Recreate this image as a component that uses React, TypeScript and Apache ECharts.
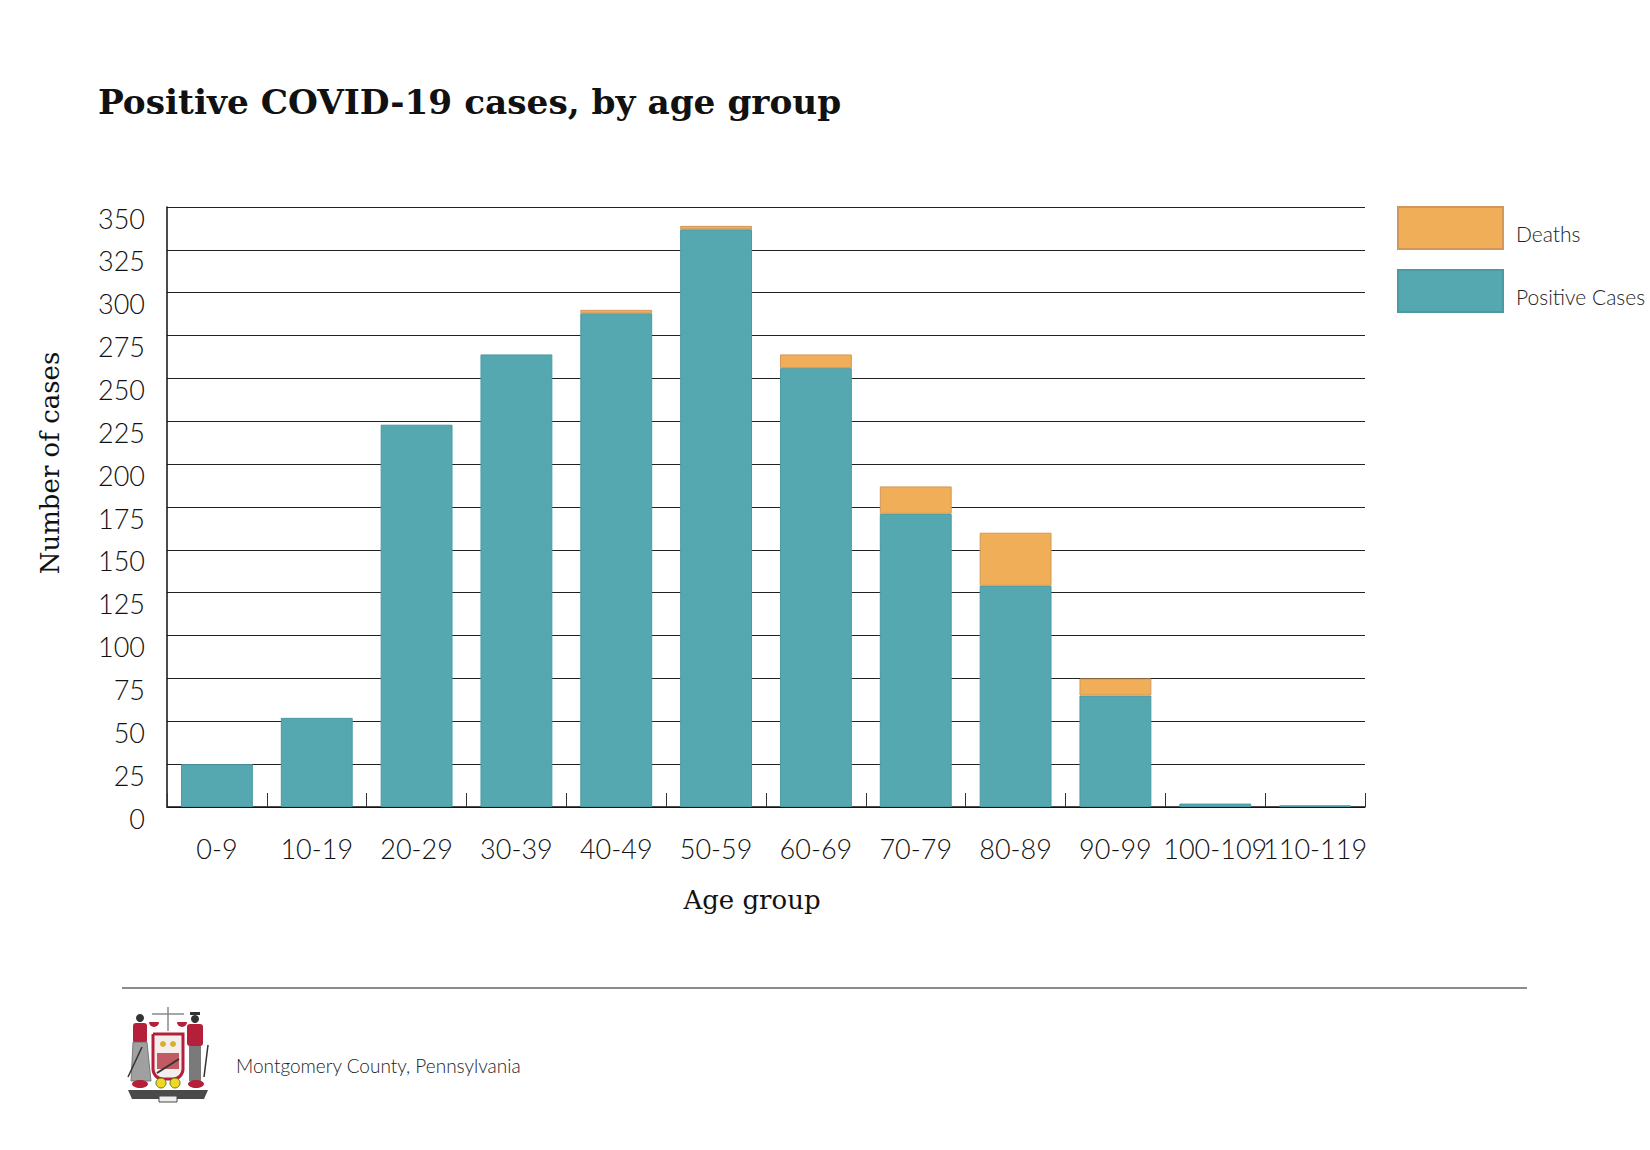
import { useEffect, useRef } from "react";
import * as echarts from "echarts";

const ageGroups = ["0-9", "10-19", "20-29", "30-39", "40-49", "50-59", "60-69", "70-79", "80-89", "90-99", "100-109", "110-119"];
const positiveCases = [25, 52, 223, 264, 288, 337, 256, 171, 129, 65, 2, 1];
const deaths = [0, 0, 0, 0, 2, 2, 8, 16, 31, 10, 0, 0];
const yTicks = { min: 0, max: 350, interval: 25 };

const TEAL = "#55a7b0";
const ORANGE = "#f0ae58";
const LIGHT = "Lato, 'Open Sans', sans-serif";
const SERIF = "'DejaVu Serif', serif";

// rough drawing of the county seal next to the footer text
function sealGraphic(): any[] {
  const red = "#b4203a";
  const grey = "#8a8a8a";
  return [
    {
      type: "group",
      x: 128,
      y: 1007,
      children: [
        // scales on top
        { type: "line", shape: { x1: 40, y1: 0, x2: 40, y2: 24 }, style: { stroke: grey, lineWidth: 1.5 } },
        { type: "line", shape: { x1: 24, y1: 7, x2: 56, y2: 7 }, style: { stroke: grey, lineWidth: 1.5 } },
        { type: "sector", shape: { cx: 26, cy: 15, r: 5, startAngle: 0, endAngle: Math.PI }, style: { fill: red } },
        { type: "sector", shape: { cx: 54, cy: 15, r: 5, startAngle: 0, endAngle: Math.PI }, style: { fill: red } },
        // left figure
        { type: "circle", shape: { cx: 12, cy: 11, r: 4 }, style: { fill: "#333" } },
        { type: "rect", shape: { x: 5, y: 16, width: 14, height: 20, r: 3 }, style: { fill: red } },
        { type: "polygon", shape: { points: [[5, 35], [19, 35], [23, 74], [3, 74]] }, style: { fill: "#a0a0a0", stroke: "#666", lineWidth: 0.8 } },
        { type: "line", shape: { x1: 0, y1: 70, x2: 14, y2: 40 }, style: { stroke: "#333", lineWidth: 1.5 } },
        // right figure
        { type: "rect", shape: { x: 62, y: 5, width: 10, height: 3 }, style: { fill: "#333" } },
        { type: "circle", shape: { cx: 67, cy: 12, r: 4 }, style: { fill: "#333" } },
        { type: "rect", shape: { x: 59, y: 17, width: 16, height: 22, r: 3 }, style: { fill: red } },
        { type: "rect", shape: { x: 61, y: 39, width: 12, height: 35 }, style: { fill: "#7a7a7a" } },
        { type: "line", shape: { x1: 76, y1: 70, x2: 80, y2: 38 }, style: { stroke: "#333", lineWidth: 1.5 } },
        // shield
        { type: "rect", shape: { x: 25, y: 27, width: 30, height: 45, r: [0, 0, 10, 10] }, style: { fill: "#f4eeee", stroke: red, lineWidth: 3 } },
        { type: "rect", shape: { x: 29, y: 46, width: 22, height: 16 }, style: { fill: "#c25a63" } },
        { type: "line", shape: { x1: 29, y1: 66, x2: 51, y2: 52 }, style: { stroke: "#333", lineWidth: 2 } },
        { type: "circle", shape: { cx: 35, cy: 37, r: 3 }, style: { fill: "#d6b12a" } },
        { type: "circle", shape: { cx: 45, cy: 37, r: 3 }, style: { fill: "#d6b12a" } },
        // flowers and leaves
        { type: "ellipse", shape: { cx: 12, cy: 77, rx: 8, ry: 4 }, style: { fill: red } },
        { type: "ellipse", shape: { cx: 68, cy: 77, rx: 8, ry: 4 }, style: { fill: red } },
        { type: "circle", shape: { cx: 33, cy: 76, r: 5 }, style: { fill: "#f0d820", stroke: "#5a7a20", lineWidth: 1 } },
        { type: "circle", shape: { cx: 47, cy: 76, r: 5 }, style: { fill: "#f0d820", stroke: "#5a7a20", lineWidth: 1 } },
        // banner
        { type: "polygon", shape: { points: [[0, 83], [80, 83], [76, 92], [4, 92]] }, style: { fill: "#4a4a4a" } },
        { type: "rect", shape: { x: 31, y: 89, width: 18, height: 6 }, style: { fill: "#eeeeee", stroke: "#4a4a4a", lineWidth: 1 } },
      ],
    },
  ];
}

export default function App() {
  const ref = useRef<HTMLDivElement | null>(null);

  useEffect(() => {
    document.body.style.margin = "0";
    if (!ref.current) {
      return;
    }

    const chart = echarts.init(ref.current, undefined, { renderer: "svg" });

    const option: echarts.EChartsOption = {
      animation: false,
      backgroundColor: "#ffffff",
      title: {
        text: "Positive COVID-19 cases, by age group",
        left: 93,
        top: 80,
        textStyle: { fontFamily: SERIF, fontWeight: "bold", fontSize: 34.3, color: "#111" },
      },
      legend: {
        orient: "vertical",
        left: 1392,
        top: 201,
        itemWidth: 105,
        itemHeight: 42,
        itemGap: 19,
        icon: "rect",
        data: ["Deaths", "Positive Cases"],
        formatter: "{n|{name}}",
        textStyle: {
          fontFamily: LIGHT,
          fontWeight: 300,
          fontSize: 21,
          color: "#222",
          rich: {
            n: {
              fontFamily: LIGHT,
              fontWeight: 300,
              fontSize: 21,
              color: "#222",
              lineHeight: 31,
              verticalAlign: "bottom",
              padding: [0, 0, 0, 8],
            },
          },
        },
      },
      grid: { left: 167, right: 285, top: 207, bottom: 343 },
      xAxis: {
        type: "category",
        data: ageGroups,
        axisLine: { lineStyle: { color: "#111", width: 1.5 } },
        axisTick: { show: true, inside: true, length: 14, interval: 0, lineStyle: { color: "#333", width: 1 } },
        axisLabel: { interval: 0, margin: 28, fontFamily: LIGHT, fontWeight: 300, fontSize: 27, color: "#111" },
      },
      yAxis: {
        type: "value",
        min: yTicks.min,
        max: yTicks.max,
        interval: yTicks.interval,
        axisLine: { show: true, lineStyle: { color: "#111", width: 1.5 } },
        axisTick: { show: false },
        splitLine: { lineStyle: { color: "#222", width: 1.2 } },
        axisLabel: {
          margin: 22,
          fontFamily: LIGHT,
          fontWeight: 300,
          fontSize: 27,
          color: "#111",
          verticalAlign: "top",
          lineHeight: 22,
        },
      },
      series: [
        {
          name: "Positive Cases",
          type: "bar",
          stack: "total",
          barWidth: "72%",
          data: positiveCases,
          itemStyle: { color: TEAL, borderColor: "#4b9aa2", borderWidth: 1 },
        },
        {
          name: "Deaths",
          type: "bar",
          stack: "total",
          barWidth: "72%",
          // zero-death groups get no segment, so no border line is drawn on top
          data: deaths.map((v) => (v > 0 ? v : null)),
          itemStyle: { color: ORANGE, borderColor: "#d2985a", borderWidth: 1 },
        },
      ],
      graphic: [
        {
          type: "text",
          x: 50,
          y: 463,
          rotation: Math.PI / 2,
          style: {
            text: "Number of cases",
            fontFamily: SERIF,
            fontSize: 26,
            fill: "#111",
            align: "center",
            verticalAlign: "middle",
          },
        },
        {
          type: "text",
          x: 752,
          y: 900,
          style: {
            text: "Age group",
            fontFamily: SERIF,
            fontSize: 26,
            fill: "#111",
            align: "center",
            verticalAlign: "middle",
          },
        },
        { type: "line", shape: { x1: 122, y1: 988, x2: 1527, y2: 988 }, style: { stroke: "#8c8c8c", lineWidth: 2 } },
        {
          type: "text",
          x: 236,
          y: 1065,
          style: {
            text: "Montgomery County, Pennsylvania",
            fontFamily: LIGHT,
            fontWeight: 300,
            fontSize: 19,
            fill: "#222",
            verticalAlign: "middle",
          },
        },
        ...sealGraphic(),
      ],
    };

    chart.setOption(option);

    return () => {
      chart.dispose();
    };
  }, []);

  return <div ref={ref} style={{ width: 1650, height: 1150 }} />;
}
